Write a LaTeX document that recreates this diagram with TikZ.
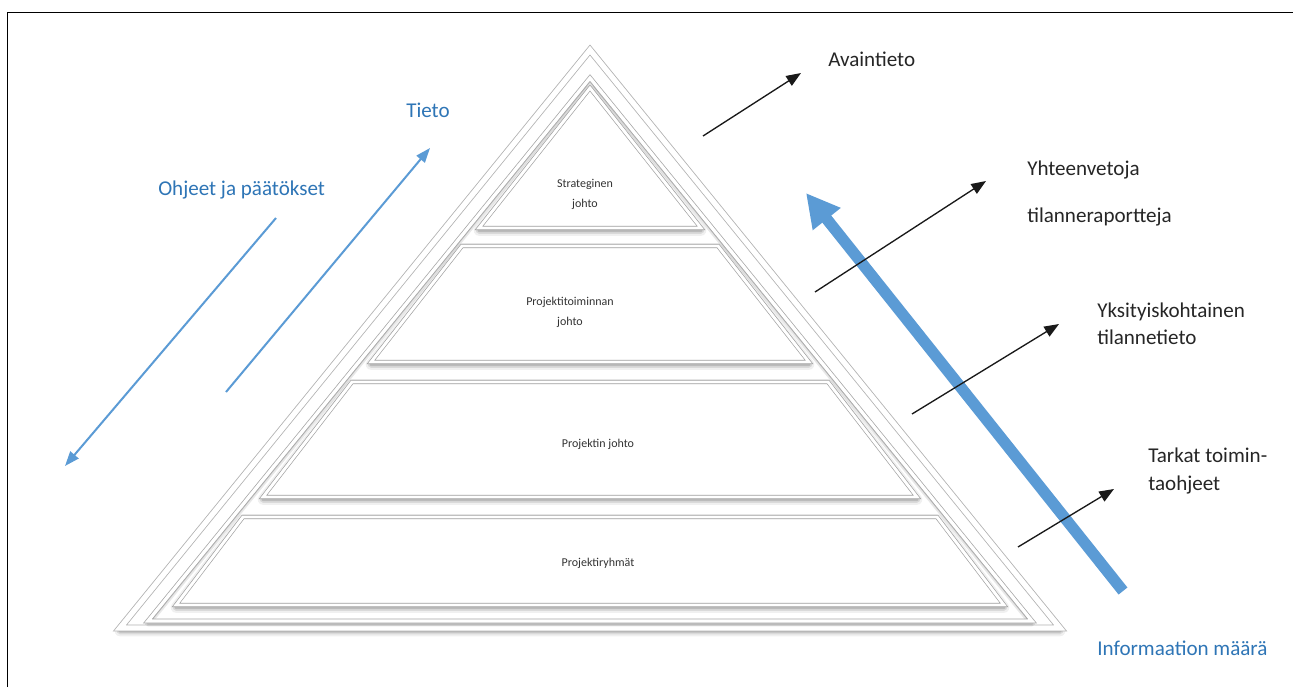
\documentclass[tikz,border=0pt]{standalone}
\usepackage{fontspec}
\setmainfont{Carlito}
\usetikzlibrary{arrows.meta}
\definecolor{arrowblue}{HTML}{5B9BD5}
\definecolor{textblue}{HTML}{2E75B6}
\newcommand\PyrOuter{(590,50) -- (120,628) -- (1060,628) -- cycle}
\newcommand\PyrInner{(590,78) -- (148,621) -- (1032,621) -- cycle}
\newcommand\LayA{(590,88) -- (479,228) -- (701,228) -- cycle}
\newcommand\LayB{(462,246) -- (718,246) -- (809,362) -- (371,362) -- cycle}
\newcommand\LayC{(352,382) -- (828,382) -- (917,497) -- (263,497) -- cycle}
\newcommand\LayD{(243,517) -- (937,517) -- (1004,605) -- (176,605) -- cycle}
\begin{document}
\begin{tikzpicture}[x=0.75pt,y=-0.75pt,
  frameline/.style={draw=black, line width=1.1pt},
  pyr/.style={fill=white, draw=gray!60, double=white, double distance=4pt, line width=0.6pt},
  inframe/.style={draw=gray!70, double=white, double distance=2.5pt, line width=0.55pt},
  layer/.style={fill=white, draw=gray!75, double=white, double distance=2.2pt, line width=0.5pt},
  blur1/.style={draw=black, opacity=0.06, line width=8pt, line join=round},
  blur2/.style={draw=black, opacity=0.09, line width=5pt, line join=round},
  blur3/.style={draw=black, opacity=0.14, line width=2.5pt, line join=round},
  lbl/.style={font=\fontsize{9}{15}\selectfont, text=black!80, align=center, inner sep=0},
  rtxt/.style={font=\fontsize{15.8}{20.5}\selectfont, text=black!85, anchor=west, align=left, inner sep=0},
  btxt/.style={font=\fontsize{15.8}{20}\selectfont, text=textblue, anchor=west, inner sep=0},
  blk/.style={draw=black!90, line width=1pt, -{Triangle[length=11pt,width=8.5pt]}},
  bluearr/.style={draw=arrowblue, line width=1.5pt, -{Triangle[length=11pt,width=8pt]}},
  bigarr/.style={draw=arrowblue, line width=8.5pt, -{Triangle[length=25pt,width=25pt]}}]
\useasboundingbox (0,0) rectangle (1293,687);
\fill[white] (0,0) rectangle (1293,687);
% frame (top and left only)
\draw[frameline] (7.5,687) -- (7.5,12.5) -- (1293,12.5);

% pyramid outer with soft shadow
\begin{scope}[shift={(0,3)}]
  \draw[blur1] \PyrOuter; \draw[blur2] \PyrOuter; \draw[blur3] \PyrOuter;
\end{scope}
\path[pyr] \PyrOuter;
% inner frame
\begin{scope}[shift={(0,2)}]
  \draw[blur2] \PyrInner; \draw[blur3] \PyrInner;
\end{scope}
\path[inframe] \PyrInner;

% layers
\foreach \L in {\LayA,\LayB,\LayC,\LayD}{
  \begin{scope}[shift={(0,2.5)}]
    \draw[blur1] \L; \draw[blur2] \L; \draw[blur3] \L;
  \end{scope}
  \path[layer] \L;
}

% layer labels
\node[lbl] (l1) at (585,194) {Strateginen\\johto};
\node[lbl] (l2) at (570,312) {Projektitoiminnan\\johto};
\node[lbl] (l3) at (598,444) {Projektin johto};
\node[lbl] (l4) at (598,563) {Projektiryhmät};

% left blue texts and arrows
\node[btxt] (tieto) at (406,110) {Tieto};
\node[btxt] (ohjeet) at (158,190) {Ohjeet ja päätökset};
\coordinate (o1) at (276,218);
\coordinate (o2) at (65,466);
\coordinate (t1) at (226,392);
\coordinate (t2) at (430,148);
\draw[bluearr] (o1) -- (o2);
\draw[bluearr] (t1) -- (t2);

% big arrow
\coordinate (b1) at (1123,591);
\coordinate (b2) at (806,193);
\draw[bigarr] (b1) -- (b2);
\node[btxt] (info) at (1097,648) {Informaation määrä};

% right texts and black arrows
\node[rtxt] (avain) at (828,59) {Avaintieto};
\node[rtxt] (yht) at (1027,170) {Yhteenvetoja};
\node[rtxt] (tila) at (1027,217) {tilanneraportteja};
\node[rtxt] (yks) at (1097,324) {Yksityiskohtainen\\tilannetieto};
\node[rtxt] (tark) at (1148,471) {Tarkat toimin-\\taohjeet};

\coordinate (a1s) at (703,136);
\coordinate (a1e) at (801,73);
\coordinate (a2s) at (815,292);
\coordinate (a2e) at (986,181);
\coordinate (a3s) at (912,414);
\coordinate (a3e) at (1059,324);
\coordinate (a4s) at (1018,547);
\coordinate (a4e) at (1114,489);
\draw[blk] (a1s) -- (a1e);
\draw[blk] (a2s) -- (a2e);
\draw[blk] (a3s) -- (a3e);
\draw[blk] (a4s) -- (a4e);
\end{tikzpicture}
\end{document}
